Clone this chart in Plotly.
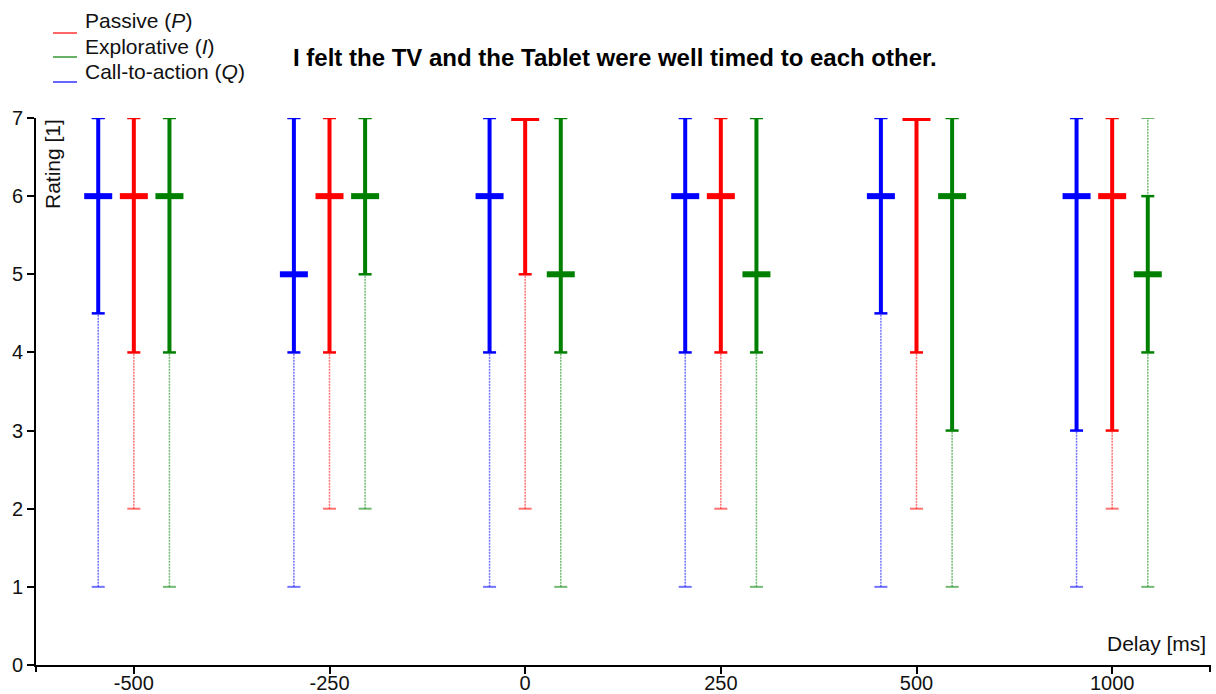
import plotly.graph_objects as go

delays = ["-500", "-250", "0", "250", "500", "1000"]
series_names = ["Passive (<i>P</i>)", "Explorative (<i>I</i>)", "Call-to-action (<i>Q</i>)"]
series_colors = ["#ff0000", "#008000", "#0000ff"]

# Passive (P)
p_min = [2, 2, 2, 2, 2, 2]
p_q1 = [4, 4, 5, 4, 4, 3]
p_med = [6, 6, 7, 6, 7, 6]
p_q3 = [7, 7, 7, 7, 7, 7]
p_max = [7, 7, 7, 7, 7, 7]
# Explorative (I)
i_min = [1, 2, 1, 1, 1, 1]
i_q1 = [4, 5, 4, 4, 3, 4]
i_med = [6, 6, 5, 5, 6, 5]
i_q3 = [7, 7, 7, 7, 7, 6]
i_max = [7, 7, 7, 7, 7, 7]
# Call-to-action (Q)
q_min = [1, 1, 1, 1, 1, 1]
q_q1 = [4.5, 4, 4, 4, 4.5, 3]
q_med = [6, 5, 6, 6, 6, 6]
q_q3 = [7, 7, 7, 7, 7, 7]
q_max = [7, 7, 7, 7, 7, 7]

stats = [
    (p_min, p_q1, p_med, p_q3, p_max),
    (i_min, i_q1, i_med, i_q3, i_max),
    (q_min, q_q1, q_med, q_q3, q_max),
]
offsets = [0.0, 0.182, -0.182]

PX = 1174.0  # plot width in px
PY = 547.0   # plot height in px
unit = PX / 6.0
cap_hw = 6.5 / unit
med_hw = 14.0 / unit

fig = go.Figure()

for (mn, q1, md, q3, mx), col, off in zip(stats, series_colors, offsets):
    wx, wy, sx, sy, cx, cy, lcx, lcy, mx_, my_ = [], [], [], [], [], [], [], [], [], []
    for k in range(len(delays)):
        p = k + off
        wx += [p, p, None]; wy += [mn[k], mx[k], None]
        sx += [p, p, None]; sy += [q1[k], q3[k], None]
        for v in (mn[k], mx[k]):
            lcx += [p - cap_hw, p + cap_hw, None]; lcy += [v, v, None]
        for v in (q1[k], q3[k]):
            cx += [p - cap_hw, p + cap_hw, None]; cy += [v, v, None]
        mx_ += [p - med_hw, p + med_hw, None]; my_ += [md[k], md[k], None]
    fig.add_trace(go.Scatter(x=wx, y=wy, mode="lines", opacity=0.55,
                             line=dict(color=col, width=1.5, dash="2px,1px"),
                             showlegend=False, hoverinfo="skip"))
    fig.add_trace(go.Scatter(x=lcx, y=lcy, mode="lines", opacity=0.55,
                             line=dict(color=col, width=2),
                             showlegend=False, hoverinfo="skip"))
    fig.add_trace(go.Scatter(x=sx, y=sy, mode="lines",
                             line=dict(color=col, width=4),
                             showlegend=False, hoverinfo="skip"))
    fig.add_trace(go.Scatter(x=cx, y=cy, mode="lines",
                             line=dict(color=col, width=2.5),
                             showlegend=False, hoverinfo="skip"))
    fig.add_trace(go.Scatter(x=mx_, y=my_, mode="lines",
                             line=dict(color=col, width=6),
                             showlegend=False, hoverinfo="skip"))

L, T = 36, 118


def px_x(x):
    return (x - L) / PX


def px_y(y):
    return (T + PY - y) / PY


shapes = []
annotations = []
FONT = "Liberation Sans, Arial, sans-serif"
FS = 21
legend_y = [33, 57, 82]
text_y = [21, 46, 71]
for name, col, ly, ty in zip(series_names, series_colors, legend_y, text_y):
    shapes.append(dict(type="line", xref="paper", yref="paper",
                       x0=px_x(53), x1=px_x(77), y0=px_y(ly), y1=px_y(ly),
                       line=dict(color=col, width=1.5), opacity=0.8))
    annotations.append(dict(text=name, xref="paper", yref="paper",
                            x=px_x(83), y=px_y(ty), xanchor="left", yanchor="middle",
                            showarrow=False, font=dict(family=FONT, size=FS, color="#111")))

# outer end ticks on x-axis
for xp in (0, 1):
    shapes.append(dict(type="line", xref="paper", yref="paper",
                       x0=xp, x1=xp, y0=0, y1=-7 / PY,
                       line=dict(color="black", width=2)))

annotations.append(dict(text="<b>I felt the TV and the Tablet were well timed to each other.</b>",
                        xref="paper", yref="paper", x=px_x(615), y=px_y(57),
                        xanchor="center", yanchor="middle", showarrow=False,
                        font=dict(family=FONT, size=24, color="black")))
annotations.append(dict(text="Rating [1]", xref="paper", yref="paper",
                        x=px_x(52), y=px_y(117), xanchor="center", yanchor="top",
                        textangle=-90, showarrow=False,
                        font=dict(family=FONT, size=FS, color="#111")))
annotations.append(dict(text="Delay [ms]", xref="paper", yref="paper",
                        x=px_x(1208), y=px_y(643), xanchor="right", yanchor="middle",
                        showarrow=False, font=dict(family=FONT, size=FS, color="#111")))

fig.update_layout(
    width=1216, height=694,
    margin=dict(l=L, r=1216 - L - int(PX), t=T, b=694 - T - int(PY), autoexpand=False),
    plot_bgcolor="white", paper_bgcolor="white",
    showlegend=False,
    shapes=shapes, annotations=annotations,
    font=dict(family=FONT, size=FS, color="#111"),
    xaxis=dict(range=[-0.5, 5.5], tickmode="array", tickvals=list(range(len(delays))),
               ticktext=delays, showgrid=False, zeroline=False, showline=True,
               automargin=False, ticklabelstandoff=-8,
               linecolor="black", linewidth=2, ticks="outside", ticklen=7,
               tickwidth=2, tickcolor="black", tickfont=dict(size=20, color="#111")),
    yaxis=dict(range=[0, 7], dtick=1, showgrid=False, zeroline=False, showline=True,
               automargin=False,
               linecolor="black", linewidth=2, ticks="outside", ticklen=7,
               tickwidth=2, tickcolor="black", tickfont=dict(size=20, color="#111")),
)

fig.write_html(
    "out.html",
    config={"displayModeBar": False},
    post_script="document.body.style.margin='0';document.body.style.overflow='hidden';",
)
